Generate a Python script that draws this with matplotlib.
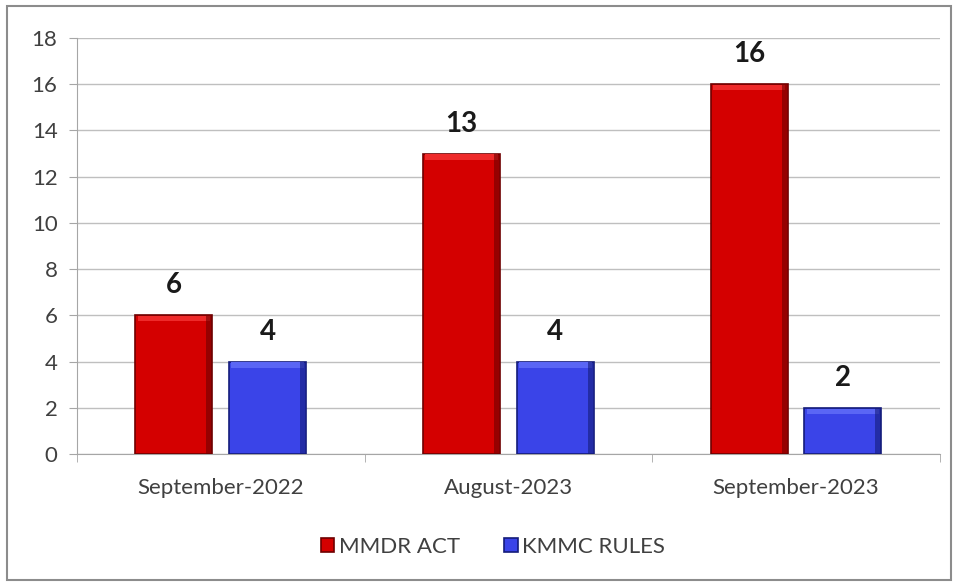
import numpy as np
import matplotlib.pyplot as plt
from matplotlib.patches import Rectangle

plt.rcParams['font.family'] = ['Lato', 'DejaVu Sans']

categories = ["September-2022", "August-2023", "September-2023"]
mmdr_act = [6, 13, 16]
kmmc_rules = [4, 4, 2]
series_names = ["MMDR ACT", "KMMC RULES"]

fig = plt.figure(figsize=(9.59, 5.84), dpi=100)
fig.patches.append(Rectangle((0.007, 0.007), 0.985, 0.982, transform=fig.transFigure,
                             fill=False, edgecolor='#8c8c8c', linewidth=1.5))
ax = fig.add_axes([0.0803, 0.2226, 0.8997, 0.7124])

x = np.arange(len(categories))
w = 0.268
off = 0.163

def draw_bars(xs, vals, face, edge, light, label):
    bars = ax.bar(xs, vals, w, color=face, edgecolor=edge, linewidth=1.2, label=label, zorder=3)
    # bevel: lighter strip along top, darker strip along right side
    for b, v in zip(bars, vals):
        ax.bar(b.get_x() + b.get_width() / 2, 0.22, w * 0.94, bottom=v - 0.26,
               color=light, linewidth=0, zorder=4)
        ax.bar(b.get_x() + w * 0.955, v - 0.05, w * 0.07, bottom=0.02,
               color=edge, linewidth=0, zorder=4, alpha=0.6)
    for b, v in zip(bars, vals):
        ax.text(b.get_x() + b.get_width() / 2, v + 0.95, str(v), ha='center', va='baseline',
                fontsize=20, fontweight='bold', color='#1a1a1a', zorder=5)

draw_bars(x - off, mmdr_act, '#d40000', '#6e0000', '#ee2a2a', series_names[0])
draw_bars(x + off, kmmc_rules, '#3a44e8', '#141c7a', '#5a66f5', series_names[1])

ax.set_xlim(-0.5, 2.5)
ax.set_ylim(0, 18)
ax.set_yticks(range(0, 19, 2))
ax.grid(axis='y', color='#bfbfbf', linewidth=1.0, zorder=0)
ax.set_xticks(x)
ax.set_xticklabels(categories, fontsize=16, color='#404040')
ax.set_xticks([-0.5, 0.5, 1.5, 2.5], minor=True)
ax.tick_params(axis='x', which='major', length=0, pad=17)
ax.tick_params(axis='x', which='minor', length=6, color='#a6a6a6', direction='out')
ax.tick_params(axis='y', labelsize=16, labelcolor='#404040', length=6, color='#a6a6a6', pad=8)
for s in ['top', 'right']:
    ax.spines[s].set_visible(False)
for s in ['left', 'bottom']:
    ax.spines[s].set_color('#a6a6a6')

h, l = ax.get_legend_handles_labels()
fig.legend(h, l, loc='center', bbox_to_anchor=(0.514, 0.063), ncol=2, frameon=False,
           fontsize=16, handlelength=0.6, handleheight=0.6, handletextpad=0.2,
           columnspacing=2.0, labelcolor='#404040')

fig.savefig('out.png', dpi=100)
